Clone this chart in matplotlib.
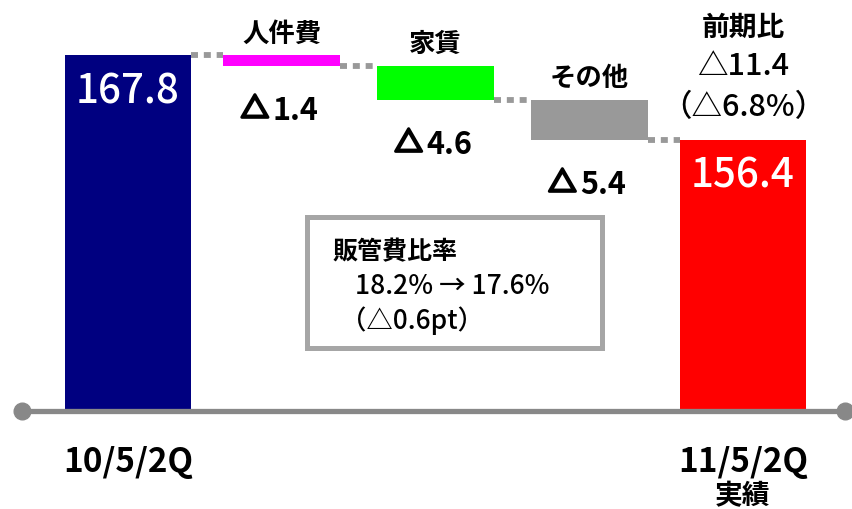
import matplotlib
matplotlib.use("Agg")
import matplotlib.pyplot as plt
import matplotlib.patheffects as pe
from matplotlib.patches import Rectangle

plt.rcParams['font.family'] = ['Noto Sans CJK JP', 'DejaVu Sans']

# data (100M yen)
start_label = "10/5/2Q"
end_label = "11/5/2Q\n実績"
start_value = 167.8
end_value = 156.4
items = ["人件費", "家賃", "その他"]
drops = [1.4, 4.6, 5.4]
item_colors = ["#ff00ff", "#00ff00", "#999999"]
total_diff = "前期比\n△11.4\n（△6.8%）"
ratio_title = "販管費比率"
ratio_text = "18.2% → 17.6%"
ratio_diff = "（△0.6pt）"

base = 120.0

fig = plt.figure(figsize=(8.52, 5.10), dpi=100)
ax = fig.add_axes([0, 0, 1, 1])
ax.set_xlim(-0.8325, 4.709)
ax.set_ylim(106.5, 175.4)
ax.axis('off')

# start / end bars
ax.bar(0, start_value - base, bottom=base, width=0.82, color="#000080", zorder=2)
ax.bar(4, end_value - base, bottom=base, width=0.82, color="#ff0000", zorder=2)

# floating bars
levels = [start_value]
for d in drops:
    levels.append(round(levels[-1] - d, 1))
thick = [pe.withStroke(linewidth=2.2, foreground='black')]
for i, (name, d, c) in enumerate(zip(items, drops, item_colors)):
    x = i + 1
    top = levels[i]
    bot = levels[i + 1]
    ax.bar(x, top - bot, bottom=bot, width=0.76, color=c, zorder=2)
    ax.annotate(name, (x, top), xytext=(0, 22), textcoords='offset pixels',
                ha='center', va='center', fontsize=19, fontweight='bold')
    ax.annotate("△", (x, bot), xytext=(-13, -44), textcoords='offset pixels',
                ha='right', va='center', fontsize=20, fontweight='bold',
                path_effects=thick)
    ax.annotate("%.1f" % d, (x, bot), xytext=(-9, -44), textcoords='offset pixels',
                ha='left', va='center', fontsize=22, fontweight='bold')

# connectors
widths = [0.82, 0.76, 0.76, 0.76, 0.82]
for i in range(4):
    x0 = i + widths[i] / 2
    x1 = i + 1 - widths[i + 1] / 2
    ax.plot([x0, x1], [levels[i], levels[i]], color="#999999", lw=4.2,
            dashes=(1.2, 1.0), solid_capstyle='butt', zorder=1)

# value labels inside main bars
ax.annotate("%.1f" % start_value, (0, start_value), xytext=(0, -36), textcoords='offset pixels',
            ha='center', va='center', fontsize=29, fontweight='medium', color='white')
ax.annotate("%.1f" % end_value, (4, end_value), xytext=(0, -35), textcoords='offset pixels',
            ha='center', va='center', fontsize=29, fontweight='medium', color='white')

# total difference
diff_lines = total_diff.split("\n")
offs = [113, 74, 33]
for j, (t, o) in enumerate(zip(diff_lines, offs)):
    ax.annotate(t, (4, end_value), xytext=(0, o), textcoords='offset pixels',
                ha='center', va='center', fontsize=20 if j == 0 else 22,
                fontweight='bold' if j == 0 else 'medium')

# baseline axis
ax.plot([-0.689, 4.663], [base - 0.2, base - 0.2], color="#888888", lw=3.8,
        solid_capstyle='butt', zorder=3)
ax.plot([-0.689, 4.663], [base - 0.2, base - 0.2], 'o', color="#888888",
        markersize=12, zorder=3)

# category labels
ax.annotate(start_label, (0, base), xytext=(0, -52), textcoords='offset pixels',
            ha='center', va='center', fontsize=24, fontweight='bold')
end_lines = end_label.split("\n")
ax.annotate(end_lines[0], (4, base), xytext=(0, -52), textcoords='offset pixels',
            ha='center', va='center', fontsize=24, fontweight='bold')
ax.annotate(end_lines[1], (4, base), xytext=(0, -86), textcoords='offset pixels',
            ha='center', va='center', fontsize=20, fontweight='bold')

# ratio box
W, H = 852.0, 510.0
fig.patches.append(Rectangle((307 / W, 1 - 349 / H), (602 - 307) / W, (349 - 218) / H,
                             transform=fig.transFigure, facecolor='white',
                             edgecolor='#a6a6a6', lw=3.6, zorder=5))
fig.text(333 / W, 1 - 252 / H, ratio_title, ha='left', va='center', fontsize=18,
         fontweight='bold', zorder=6)
fig.text(355 / W, 1 - 287 / H, ratio_text, ha='left', va='center', fontsize=19,
         fontweight='medium', zorder=6)
fig.text(340 / W, 1 - 321 / H, ratio_diff, ha='left', va='center', fontsize=19,
         fontweight='medium', zorder=6)

fig.savefig("out.png", dpi=100)
